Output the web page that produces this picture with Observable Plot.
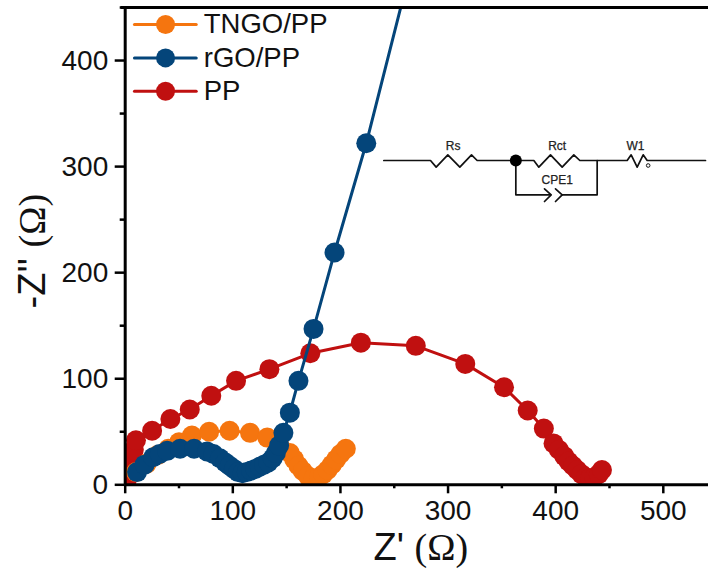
<!DOCTYPE html>
<html><head><meta charset="utf-8">
<script src="https://cdn.jsdelivr.net/npm/d3@7"></script>
<script src="https://cdn.jsdelivr.net/npm/@observablehq/plot@0.6"></script>
<style>html,body{margin:0;padding:0;background:#fff}#wrap{position:relative;width:708px;height:581px;overflow:hidden}#wrap svg{display:block}#inset{position:absolute;left:370px;top:125px}</style>
</head><body><div id="wrap"><div id="main"></div><div id="inset"></div></div>
<script>
const ppX=[1,3,5,6,8,10,25,42,60,80,103,134,172,219,270,316,352,374,389,398,403,408,412,416,420,424,428,432,436,440,443];
const ppY=[3,8,15,25,33,42,51,62,71,84,98,109,124,134,131,114,92,70,53,39,33,27,22,18,14,10,7,6,7,10,14];
const tngoX=[10,20,30,40,50,62,78,97,116,132,143,153,157,161,165,170,175,180,184,188,192,196,200,205];
const tngoY=[12,20,28,34,40,46.5,50,51,49,44.5,38,30,24,18,13,8,6,7,10,14,19,24,29,34];
const rgoX=[11,18,26,32,39,51,64,76,82,88,93,97,101,105,109,113,117,121,125,129,133,137,140,143,147,153,161,175,194.5,224,264];
const rgoY=[12,19,26,29,32,34,34,31.5,29,25,21,18,15,12,11,12,13.5,15,17,19,21,25,30,37,49,68,98,147,219,322,482];
const series=[
  {name:"PP",xs:ppX,ys:ppY,color:"#C01010",legendY:371},
  {name:"TNGO/PP",xs:tngoX,ys:tngoY,color:"#F5750F",legendY:434},
  {name:"rGO/PP",xs:rgoX,ys:rgoY,color:"#04457A",legendY:402.5}
];
const majorX=[0,100,200,300,400,500], minorX=[50,150,250,350,450];
const majorY=[0,100,200,300,400], minorY=[50,150,250,350,450];
const legendLineX=[8.6,66], legendDotX=37.5, legendTextX=73;
const font="'Liberation Sans',Arial,sans-serif";

const marks=[];
for(const s of series){
  const rows=s.xs.map((x,i)=>({x,y:s.ys[i]}));
  marks.push(Plot.line(rows,{x:"x",y:"y",stroke:s.color,strokeWidth:3,clip:true}));
  marks.push(Plot.dot(rows,{x:"x",y:"y",r:10,fill:s.color,clip:true}));
}
for(const s of series){
  const row=legendLineX.map(x=>({x,y:s.legendY}));
  marks.push(Plot.line(row,{x:"x",y:"y",stroke:s.color,strokeWidth:3}));
  marks.push(Plot.dot([{x:legendDotX,y:s.legendY}],{x:"x",y:"y",r:9.5,fill:s.color}));
  marks.push(Plot.text([s.name],{x:legendTextX,y:s.legendY,text:d=>d,textAnchor:"start",fontSize:27.5,fill:"#111"}));
}
marks.push(
  Plot.ruleY([0],{strokeWidth:3,stroke:"#000"}),
  Plot.ruleX([0],{strokeWidth:3,stroke:"#000"}),
  Plot.ruleY([450],{strokeWidth:3,stroke:"#000",insetLeft:-4}),
  Plot.axisX({ticks:majorX,tickSize:9,tickPadding:6,strokeWidth:2.5,stroke:"#000",fontSize:28,label:null,tickFormat:d=>d}),
  Plot.axisX({ticks:minorX,tickSize:4,strokeWidth:2.5,stroke:"#000",label:null,tickFormat:()=>""}),
  Plot.axisY({ticks:majorY,tickSize:10,tickPadding:7,strokeWidth:2.5,stroke:"#000",fontSize:28,label:null,tickFormat:d=>d}),
  Plot.axisY({ticks:minorY,tickSize:5,strokeWidth:2.5,stroke:"#000",label:null,tickFormat:()=>""}),
  Plot.text(["Z' (Ω)"],{frameAnchor:"bottom",dx:4,dy:75,fontSize:38,fill:"#111"}),
  Plot.text(["-Z'' (Ω)"],{frameAnchor:"left",textAnchor:"middle",rotate:-90,dx:-92,dy:5,fontSize:38,fill:"#111"})
);
const chart=Plot.plot({width:708,height:581,marginLeft:124.7,marginRight:0,marginTop:7,marginBottom:96.7,
  style:{fontFamily:font,background:"#fff",color:"#111",overflow:"visible"},
  x:{domain:[0,542],axis:null},y:{domain:[0,450],axis:null},marks});
document.getElementById("main").append(chart);
// the parentheses and Omega of the axis titles are set in a serif face
d3.select(chart).selectAll("text").each(function(){
  const t=this.textContent; const i=t.indexOf("(Ω)");
  if(i<0) return;
  const sel=d3.select(this); sel.text(null);
  sel.append("tspan").text(t.slice(0,i));
  sel.append("tspan").attr("font-family","'Liberation Serif',serif").text("(Ω)");
});

// equivalent-circuit inset, in its own schematic units
const wires=[
 [[40,105],[180,105],[197,125],[232,88],[268,125],[303,88],[320,105],[490,105],[505,125],[540,88],[575,125],[610,88],[628,105],[770,105],[782,88],[800,125],[818,88],[830,105],[1005,105]],
 [[436,105],[436,208],[540,208]],
 [[522,190],[542,208],[522,228]],
 [[555,190],[575,208],[555,228]],
 [[575,208],[680,208],[680,105]]
];
const labels=["Rs","Rct","CPE1","W1"], labelX=[248,560,560,795], labelY=[62,62,165,62];
const wireRows=wires.flatMap((w,i)=>w.map(p=>({x:p[0],y:p[1],w:i})));
const inset=Plot.plot({width:338,height:85,margin:0,
  style:{fontFamily:font,background:"transparent",overflow:"visible"},
  x:{domain:[0,1014],axis:null},y:{domain:[255,0],axis:null},
  marks:[
   Plot.line(wireRows,{x:"x",y:"y",z:"w",stroke:"#111",strokeWidth:1.7}),
   Plot.dot([[436,105]],{x:d=>d[0],y:d=>d[1],r:6,fill:"#000"}),
   Plot.dot([[833,120]],{x:d=>d[0],y:d=>d[1],r:1.8,stroke:"#111",strokeWidth:1}),
   Plot.text(labels,{x:(d,i)=>labelX[i],y:(d,i)=>labelY[i],text:d=>d,fontSize:12,fill:"#222",stroke:"#222",strokeWidth:0.25})
  ]});
document.getElementById("inset").append(inset);
</script></body></html>
